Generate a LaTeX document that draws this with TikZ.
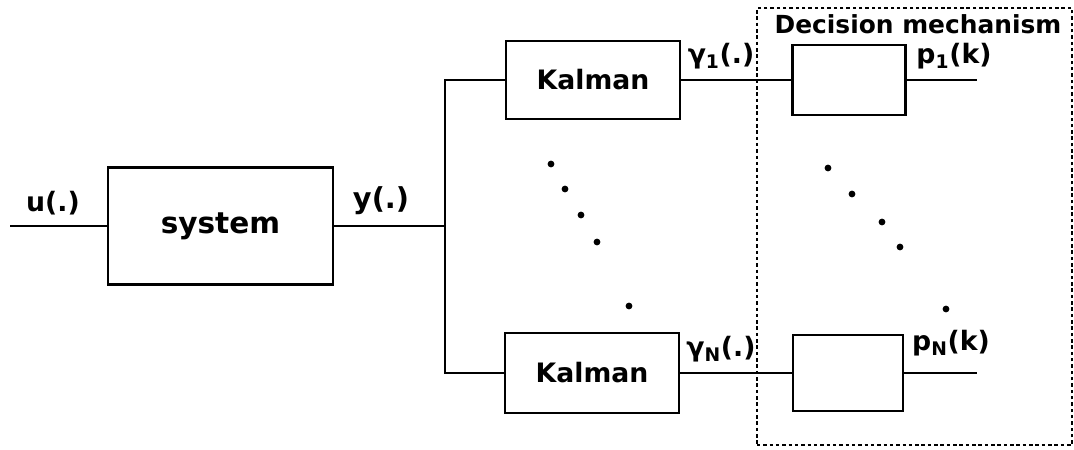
\documentclass[tikz,border=0pt]{standalone}
\usepackage{fontspec}
\setmainfont{DejaVu Sans}
\usepackage{tikz}
\usetikzlibrary{positioning,calc}
\tikzset{
  blk/.style={draw,line width=1.8pt,inner sep=0pt,font=\bfseries\fontsize{19}{22}\selectfont},
  lbl/.style={inner sep=0pt,font=\bfseries\fontsize{19}{22}\selectfont},
  wire/.style={line width=1.8pt},
  grp/.style={draw,line width=1.9pt,dash pattern=on 2.5pt off 2pt,inner sep=0pt},
}
\begin{document}
\begin{tikzpicture}[x=0.025cm,y=-0.025cm]
\useasboundingbox (0,0) rectangle (1074,449);
\node[grp,minimum width=7.875cm,minimum height=10.925cm] (dm) at (914.5,226.5) {};
\node[lbl,font=\bfseries\fontsize{17.7}{20}\selectfont] (dmt) at (918,24) {Decision mechanism};
\node[blk,minimum width=5.625cm,minimum height=2.925cm,font=\bfseries\fontsize{21}{24}\selectfont] (sys) at (220.5,226) {system};
\node[blk,minimum width=4.35cm,minimum height=1.95cm] (k1) at (593,80) {Kalman};
\node[blk,minimum width=4.35cm,minimum height=2.0cm] (kN) at (592,373) {Kalman};
\node[blk,minimum width=2.83cm,minimum height=1.75cm] (d1) at (849,80) {};
\node[blk,minimum width=2.75cm,minimum height=1.9cm] (dN) at (848,373) {};
\coordinate (in) at (10,226); \coordinate (jn) at (445,226);
\coordinate (o1) at (977,80); \coordinate (oN) at (977,373);
\draw[wire] (in)--(sys.west); \draw[wire] (sys.east)--(jn);
\draw[wire] (k1.west) -| (jn) |- (kN.west);
\draw[wire] (k1.east)--(d1.west); \draw[wire] (kN.east)--(dN.west);
\draw[wire] (d1.east)--(o1); \draw[wire] (dN.east)--(oN);
\node[lbl] (u) at (53,203) {u(.)};
\node[lbl,font=\bfseries\fontsize{20.5}{24}\selectfont] (y) at (381,201) {y(.)};
\node[lbl] (g1) at (721,56) {γ\textsubscript{1}(.)};
\node[lbl] (gN) at (721,349) {γ\textsubscript{N}(.)};
\node[lbl] (p1) at (954,56) {p\textsubscript{1}(k)};
\node[lbl] (pN) at (951,343) {p\textsubscript{N}(k)};
\foreach \x/\y in {551/164,565/189,581/215,597/242,629/306,828/168,852/194,882/222,900/247,946/309} {\fill (\x,\y) circle[radius=3.4];}
\end{tikzpicture}
\end{document}
